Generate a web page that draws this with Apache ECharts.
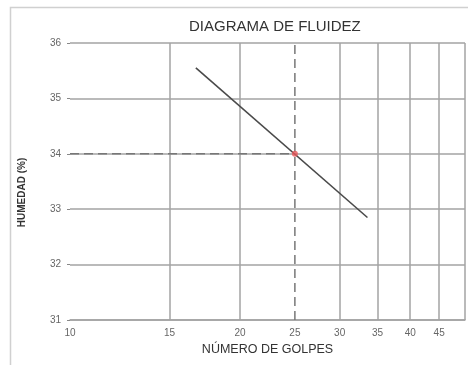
<!DOCTYPE html>
<html>
<head>
<meta charset="utf-8">
<script src="https://cdn.jsdelivr.net/npm/echarts@6/dist/echarts.min.js"></script>
<style>html,body{margin:0;padding:0;background:#fff}#c{width:468px;height:365px}</style>
</head>
<body>
<div id="c"></div>
<script>
// Data
const fitBlows = [16.7, 33.6];
const fitMoisture = [35.55, 32.85];
const pointBlows = [25];
const pointMoisture = [34.0];
const xTickLabels = [10, 15, 20, 25, 30, 35, 40, 45];
const xGridValues = [15, 20, 30, 35, 40, 45, 50];
const yTicks = [31, 32, 33, 34, 35, 36];

const chart = echarts.init(document.getElementById('c'));
const gray = '#a3a3a3';
chart.setOption({
  animation: false,
  backgroundColor: '#fff',
  title: {
    text: 'DIAGRAMA DE FLUIDEZ',
    left: 184, top: 14,
    textStyle: {fontFamily: 'Liberation Sans, Arial', fontSize: 15, fontWeight: 'normal', color: '#333'}
  },
  graphic: [{
    type: 'rect', left: 8, top: 5, shape: {width: 480, height: 400},
    style: {fill: 'none', stroke: '#d0d0d0', lineWidth: 1.5}, silent: true, z: -1
  }],
  grid: {left: 70, right: 3, top: 43, bottom: 45},
  xAxis: {
    type: 'log', logBase: 10, min: 10, max: 50,
    name: 'NÚMERO DE GOLPES', nameLocation: 'middle', nameGap: 20,
    nameTextStyle: {fontFamily: 'Liberation Sans, Arial', fontSize: 12.5, color: '#333'},
    axisLine: {show: true, lineStyle: {color: gray, width: 1.5}},
    axisTick: {show: false, customValues: xGridValues},
    axisLabel: {customValues: xTickLabels, color: '#666', fontSize: 10, margin: 8, fontFamily: 'Liberation Sans, Arial'},
    splitLine: {show: true, lineStyle: {color: gray, width: 1.5}}
  },
  yAxis: {
    type: 'value', min: 31, max: 36, interval: 1,
    name: 'HUMEDAD (%)', nameLocation: 'middle', nameGap: 43, nameRotate: 90,
    nameTextStyle: {fontFamily: 'Liberation Sans, Arial', fontSize: 10, fontWeight: 'bold', color: '#333', padding: [0, 0, 0, -22]},
    axisLine: {show: false},
    axisTick: {show: true, length: 3, lineStyle: {color: '#888'}},
    axisLabel: {color: '#666', fontSize: 10, margin: 9, fontFamily: 'Liberation Sans, Arial', customValues: yTicks},
    splitLine: {show: true, lineStyle: {color: gray, width: 1.5}}
  },
  series: [
    {
      type: 'line', symbol: 'none', silent: true,
      data: [[xTickLabels[0], pointMoisture[0]], [pointBlows[0], pointMoisture[0]]],
      lineStyle: {color: '#777', width: 1.5, type: [9, 5]}, z: 3
    },
    {
      type: 'line', symbol: 'none', silent: true,
      data: [[pointBlows[0], yTicks[0]], [pointBlows[0], yTicks[yTicks.length - 1]]],
      lineStyle: {color: '#777', width: 1.5, type: [9, 5]}, z: 3
    },
    {
      type: 'line', symbol: 'none', silent: true,
      data: fitBlows.map((b, i) => [b, fitMoisture[i]]),
      lineStyle: {color: '#4a4a4a', width: 1.6}, z: 4
    },
    {
      type: 'scatter', symbol: 'circle', symbolSize: 6, silent: true,
      data: pointBlows.map((b, i) => [b, pointMoisture[i]]),
      itemStyle: {color: '#e8575a'}, z: 5
    }
  ]
});
</script>
</body>
</html>
